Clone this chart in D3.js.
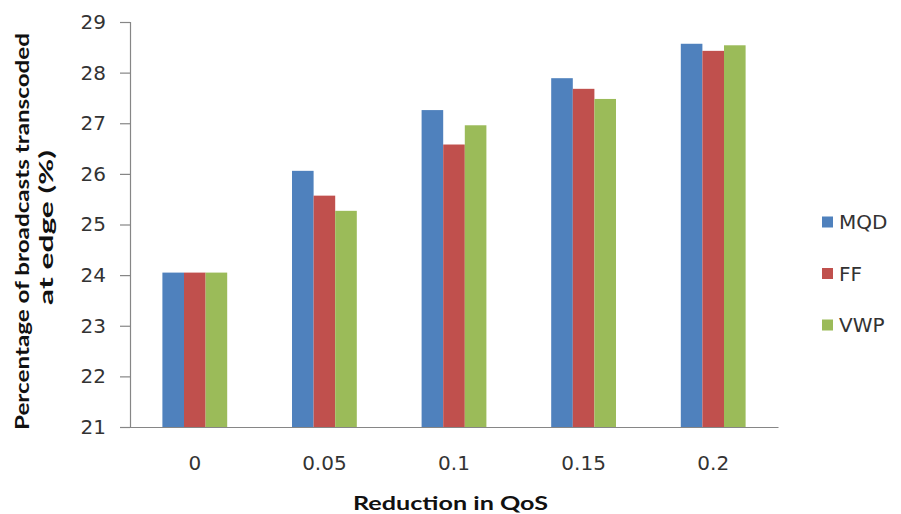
<!DOCTYPE html>
<html>
<head>
<meta charset="utf-8">
<script src="https://cdn.jsdelivr.net/npm/d3@7"></script>
<style>
  body { margin: 0; background: #fff; }
  svg { display: block; font-family: "DejaVu Sans", sans-serif; }
</style>
</head>
<body>
<svg id="chart" width="901" height="514"></svg>
<script>
// QoS reduction levels on the x axis
const categories = ["0", "0.05", "0.1", "0.15", "0.2"];
// Series names and their values (% of broadcasts transcoded at edge)
const seriesNames = ["MQD", "FF", "VWP"];
const mqd = [24.05, 26.06, 27.26, 27.89, 28.57];
const ff  = [24.05, 25.57, 26.58, 27.68, 28.43];
const vwp = [24.05, 25.27, 26.96, 27.48, 28.54];
const yTicks = [21, 22, 23, 24, 25, 26, 27, 28, 29];
const colors = ["#4F81BD", "#C0504D", "#9BBB59"];

const seriesValues = [mqd, ff, vwp];
const rows = categories.map((c, i) => ({
  cat: c,
  vals: seriesNames.map((s, j) => ({ key: s, value: seriesValues[j][i] }))
}));

const svg = d3.select("#chart");
const margin = { left: 130, right: 123, top: 22, bottom: 87 };
const W = 901, H = 514;
const tickFont = 20;

const x0 = d3.scaleBand().domain(categories)
  .range([margin.left, W - margin.right]).paddingInner(0.5).paddingOuter(0.25);
const x1 = d3.scaleBand().domain(seriesNames).range([0, x0.bandwidth()]);
const y = d3.scaleLinear().domain([21, 29]).range([H - margin.bottom, margin.top]);

// bars
svg.append("g").selectAll("g").data(rows).join("g")
  .attr("transform", d => `translate(${x0(d.cat)},0)`)
  .selectAll("rect").data(d => d.vals).join("rect")
  .attr("x", d => x1(d.key))
  .attr("width", x1.bandwidth())
  .attr("y", d => y(d.value))
  .attr("height", d => y(21) - y(d.value))
  .attr("fill", (d, i) => colors[i]);

// y axis
const yAxis = svg.append("g")
  .attr("transform", `translate(${margin.left},0)`)
  .call(d3.axisLeft(y).tickValues(yTicks).tickSize(10).tickPadding(14).tickFormat(d3.format("d")));
yAxis.select(".domain").attr("stroke", "#868686").attr("stroke-width", 1.2);
yAxis.selectAll(".tick line").attr("stroke", "#868686").attr("stroke-width", 1.2);
yAxis.selectAll("text").attr("font-size", tickFont).attr("fill", "#333")
  .attr("font-family", "DejaVu Sans, sans-serif");

// x axis
const xAxis = svg.append("g")
  .attr("transform", `translate(0,${y(21)})`)
  .call(d3.axisBottom(x0).tickSize(0));
xAxis.select(".domain").attr("stroke", "#868686").attr("stroke-width", 1.2);
xAxis.selectAll("text").attr("font-size", tickFont).attr("fill", "#333")
  .attr("font-family", "DejaVu Sans, sans-serif")
  .attr("y", 43).attr("dy", null);

// axis titles
svg.append("text")
  .attr("x", 353).attr("y", 510)
  .attr("textLength", 195).attr("lengthAdjust", "spacingAndGlyphs")
  .attr("font-family", "Lato, sans-serif")
  .attr("font-size", 19).attr("font-weight", "bold").attr("fill", "#111")
  .text("Reduction in QoS");

const yTitle = svg.append("g")
  .attr("font-family", "Lato, sans-serif")
  .attr("font-size", 19).attr("font-weight", "bold").attr("fill", "#111");
yTitle.append("text")
  .attr("transform", "translate(29,430) rotate(-90)")
  .attr("textLength", 397).attr("lengthAdjust", "spacingAndGlyphs")
  .text("Percentage of broadcasts  transcoded");
yTitle.append("text")
  .attr("transform", "translate(53,305) rotate(-90)")
  .attr("textLength", 155).attr("lengthAdjust", "spacingAndGlyphs")
  .text("at edge (%)");

// legend
const legend = svg.append("g").selectAll("g").data(seriesNames).join("g")
  .attr("transform", (d, i) => `translate(822,${222 + i * 51.5})`);
legend.append("rect").attr("x", 0).attr("y", -5.5).attr("width", 11).attr("height", 11)
  .attr("fill", (d, i) => colors[i]);
legend.append("text").attr("x", 17).attr("y", 0).attr("dy", "0.36em")
  .attr("font-size", tickFont).attr("fill", "#333").text(d => d);
</script>
</body>
</html>
